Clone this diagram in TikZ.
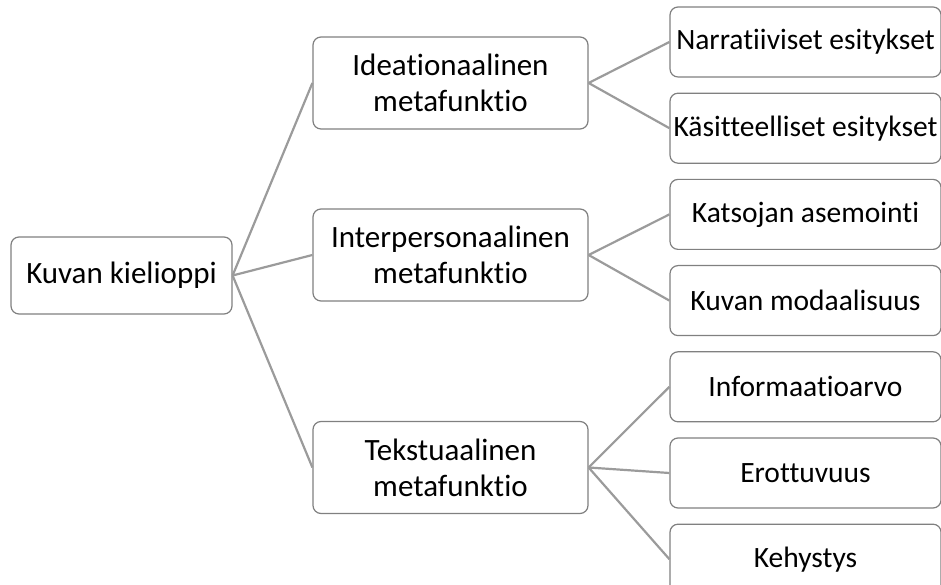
\documentclass[tikz,border=0pt]{standalone}
\usepackage{fontspec}
\setmainfont{Carlito}[RawFeature={-liga;-clig}]
\definecolor{boxgray}{RGB}{128, 128, 128}
\definecolor{linegray}{RGB}{155, 155, 155}
\usetikzlibrary{positioning}
\tikzset{
	rootbox/.style={rectangle, rounded corners=8pt, draw=boxgray, fill=white, line width=1.2pt, align=center, minimum width=221pt, minimum height=77pt, inner sep=0pt, font=\fontsize{31}{37}\selectfont},
	midbox/.style={rectangle, rounded corners=8pt, draw=boxgray, fill=white, line width=1.2pt, align=center, minimum width=275pt, minimum height=92pt, inner sep=0pt, font=\fontsize{31}{36}\selectfont},
	leafbox/.style={rectangle, rounded corners=8pt, draw=boxgray, fill=white, line width=1.2pt, align=center, minimum width=271pt, minimum height=70pt, inner sep=0pt, font=\fontsize{29.5}{35}\selectfont},
	link/.style={line width=2.2pt, draw=linegray},
}
\begin{document}
\begin{tikzpicture}[x=1pt, y=1pt, node distance=15pt]
	\useasboundingbox (0,0) rectangle (941,585);
	\node[rootbox] (root) at (121.5,309.5) {Kuvan kielioppi};
	\node[midbox] (idea) at (450.5,502) {Ideationaalinen\\metafunktio};
	\node[midbox] (inter) at (450.5,330) {Interpersonaalinen\\metafunktio};
	\node[midbox] (teksti) at (450.5,117.5) {Tekstuaalinen\\metafunktio};
	\node[leafbox] (narr) at (805.5,543) {Narratiiviset esitykset};
	\node[leafbox, below=of narr] (kasit) {Käsitteelliset esitykset};
	\node[leafbox, below=of kasit] (katsoja) {Katsojan asemointi};
	\node[leafbox, below=of katsoja] (modaali) {Kuvan modaalisuus};
	\node[leafbox, below=of modaali] (info) {Informaatioarvo};
	\node[leafbox, below=of info] (erottuvuus) {Erottuvuus};
	\node[leafbox, below=of erottuvuus] (kehys) {Kehystys};
	\draw[link] (root.east) -- (idea.west);
	\draw[link] (root.east) -- (inter.west);
	\draw[link] (root.east) -- (teksti.west);
	\draw[link] (idea.east) -- (narr.west);
	\draw[link] (idea.east) -- (kasit.west);
	\draw[link] (inter.east) -- (katsoja.west);
	\draw[link] (inter.east) -- (modaali.west);
	\draw[link] (teksti.east) -- (info.west);
	\draw[link] (teksti.east) -- (erottuvuus.west);
	\draw[link] (teksti.east) -- (kehys.west);
\end{tikzpicture}
\end{document}
